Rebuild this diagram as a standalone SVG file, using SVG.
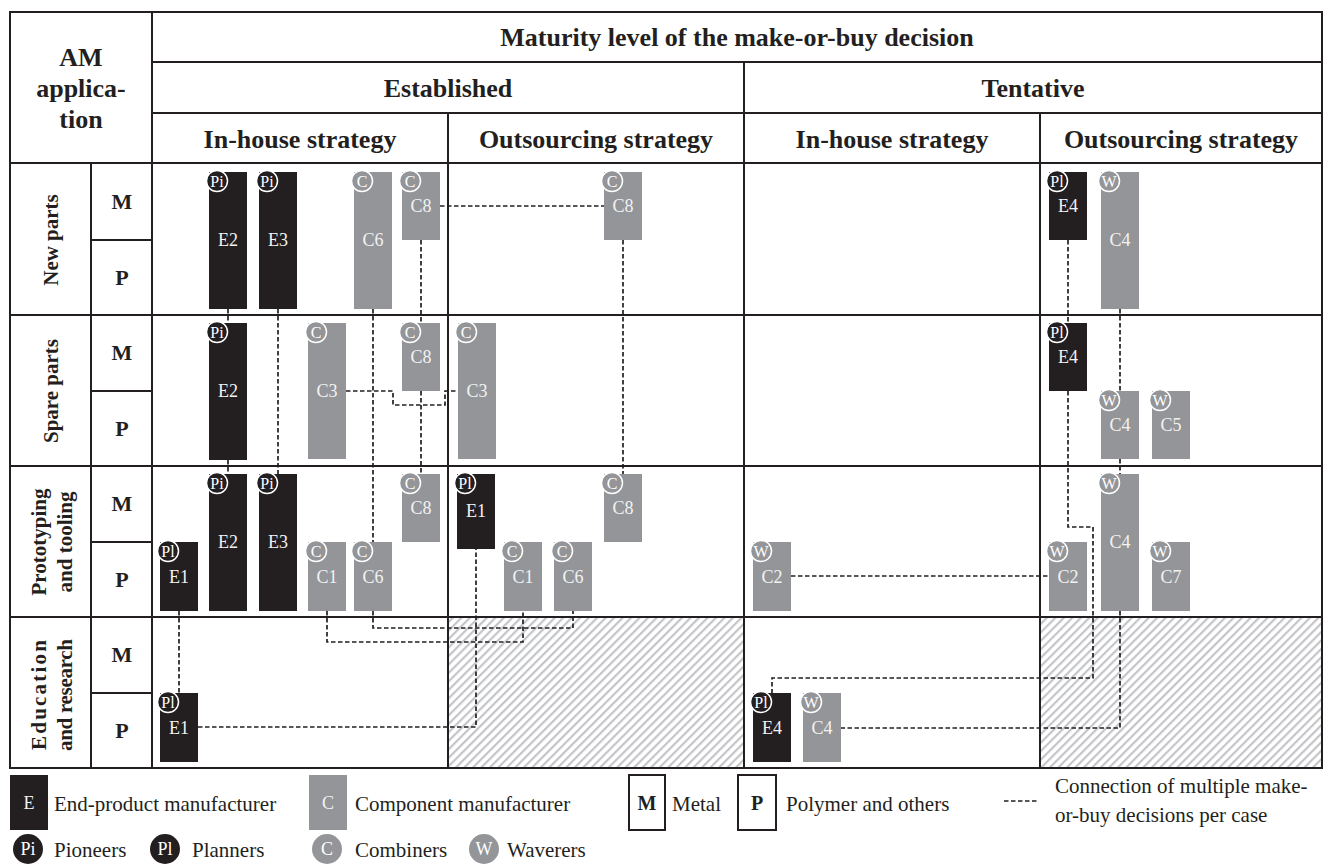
<svg xmlns="http://www.w3.org/2000/svg" width="1327" height="868" viewBox="0 0 1327 868">
<defs>
<pattern id="hatch" patternUnits="userSpaceOnUse" width="6" height="6" patternTransform="rotate(45)">
<rect width="6" height="6" fill="#ffffff"/>
<line x1="1" y1="0" x2="1" y2="6" stroke="#c4c5c9" stroke-width="2.4"/>
</pattern>
<style>
.grid{stroke:#231f20;stroke-width:2;fill:none}
.h{font-family:"Liberation Serif","Times New Roman",serif;font-weight:bold;fill:#231f20;text-anchor:middle;font-size:26px}
.rl{font-family:"Liberation Serif","Times New Roman",serif;font-weight:bold;fill:#231f20;text-anchor:middle;font-size:21px}
.mp{font-family:"Liberation Serif","Times New Roman",serif;font-weight:bold;fill:#231f20;text-anchor:middle;font-size:22px}
.bk{fill:#231f20}
.gy{fill:#939598}
.lbl{font-family:"Liberation Serif","Times New Roman",serif;font-size:18px;fill:#f2f2f2;text-anchor:middle}
.bdk{fill:#231f20;stroke:#ffffff;stroke-width:1.5}
.bgy{fill:#939598;stroke:#ffffff;stroke-width:1.5}
.bt{font-family:"Liberation Serif","Times New Roman",serif;font-size:16px;fill:#ffffff;text-anchor:middle}
.lbt{font-family:"Liberation Serif","Times New Roman",serif;font-size:18px;fill:#ffffff;text-anchor:middle}
.dash{fill:none;stroke:#231f20;stroke-width:1.7;stroke-dasharray:4.5 2.5}
.lg{font-family:"Liberation Serif","Times New Roman",serif;font-size:21px;fill:#231f20}
.lgb{font-family:"Liberation Serif","Times New Roman",serif;font-size:20px;font-weight:bold;fill:#231f20;text-anchor:middle}
</style>
</defs>
<rect width="1327" height="868" fill="#ffffff"/>

<g id="hatched">
<rect x="449" y="618" width="294" height="149" fill="url(#hatch)"/>
<rect x="1041" y="618" width="280" height="149" fill="url(#hatch)"/>
</g>

<g id="table" class="grid">
<rect x="10" y="12" width="1312" height="756"/>
<line x1="152" y1="12" x2="152" y2="768"/>
<line x1="152" y1="62" x2="1322" y2="62"/>
<line x1="152" y1="113" x2="1322" y2="113"/>
<line x1="10" y1="163" x2="1322" y2="163"/>
<line x1="744" y1="62" x2="744" y2="768"/>
<line x1="448" y1="113" x2="448" y2="768"/>
<line x1="1040" y1="113" x2="1040" y2="768"/>
<line x1="10" y1="315" x2="1322" y2="315"/>
<line x1="10" y1="466" x2="1322" y2="466"/>
<line x1="10" y1="617" x2="1322" y2="617"/>
<line x1="91" y1="163" x2="91" y2="768"/>
<line x1="91" y1="240" x2="152" y2="240"/>
<line x1="91" y1="391" x2="152" y2="391"/>
<line x1="91" y1="542" x2="152" y2="542"/>
<line x1="91" y1="693" x2="152" y2="693"/>
</g>

<g id="headers">
<text class="h" x="81" y="66">AM</text>
<text class="h" x="81" y="97">applica-</text>
<text class="h" x="81" y="128">tion</text>
<text class="h" x="737" y="46">Maturity level of the make-or-buy decision</text>
<text class="h" x="448" y="97">Established</text>
<text class="h" x="1033" y="97">Tentative</text>
<text class="h" x="300" y="148">In-house strategy</text>
<text class="h" x="596" y="148">Outsourcing strategy</text>
<text class="h" x="892" y="148">In-house strategy</text>
<text class="h" x="1181" y="148">Outsourcing strategy</text>
</g>

<g id="row-labels">
<text class="rl" transform="translate(58,240) rotate(-90)">New parts</text>
<text class="rl" transform="translate(58,391) rotate(-90)">Spare parts</text>
<text class="rl" transform="translate(46,542) rotate(-90)">Prototyping</text>
<text class="rl" transform="translate(72,542) rotate(-90)">and tooling</text>
<text class="rl" transform="translate(46,695) rotate(-90)" textLength="110" lengthAdjust="spacing">Education</text>
<text class="rl" transform="translate(72,695) rotate(-90)" textLength="112" lengthAdjust="spacing">and research</text>
<text class="mp" x="122" y="209">M</text><text class="mp" x="122" y="285">P</text>
<text class="mp" x="122" y="360">M</text><text class="mp" x="122" y="436">P</text>
<text class="mp" x="122" y="511">M</text><text class="mp" x="122" y="587">P</text>
<text class="mp" x="122" y="662">M</text><text class="mp" x="122" y="738">P</text>
</g>

<g id="connectors" class="dash">
<path d="M228,309 V323"/>
<path d="M228,460 V474"/>
<path d="M278,309 V474"/>
<path d="M373,309 V542"/>
<path d="M373,611 V628 H573 V611"/>
<path d="M327,611 V642 H523 V611"/>
<path d="M440,206 H604"/>
<path d="M421,240 V323"/>
<path d="M421,391 V474"/>
<path d="M623,240 V474"/>
<path d="M346,391 H393 V405 H445 V391 H458"/>
<path d="M179,611 V693"/>
<path d="M198,727 H476 V549"/>
<path d="M791,576 H1049"/>
<path d="M1068,240 V323"/>
<path d="M1068,391 V527 H1093 V678 H772 V693"/>
<path d="M1120,309 V391"/>
<path d="M1120,459 V474"/>
<path d="M1120,611 V728 H841"/>
</g>

<g id="est-inhouse-new-E2"><rect class="bk" x="209" y="172" width="38" height="137"/><text class="lbl" x="228" y="246">E2</text><circle class="bdk" cx="217" cy="181" r="10.5"/><text class="bt" x="217" y="186.5">Pi</text></g>
<g id="est-inhouse-new-E3"><rect class="bk" x="259" y="172" width="38" height="137"/><text class="lbl" x="278" y="246">E3</text><circle class="bdk" cx="267" cy="181" r="10.5"/><text class="bt" x="267" y="186.5">Pi</text></g>
<g id="est-inhouse-new-C6"><rect class="gy" x="354" y="172" width="38" height="137"/><text class="lbl" x="373" y="246">C6</text><circle class="bgy" cx="362" cy="181" r="10.5"/><text class="bt" x="362" y="186.5">C</text></g>
<g id="est-inhouse-new-C8"><rect class="gy" x="402" y="172" width="38" height="68"/><text class="lbl" x="421" y="212">C8</text><circle class="bgy" cx="410" cy="181" r="10.5"/><text class="bt" x="410" y="186.5">C</text></g>
<g id="est-inhouse-spare-E2"><rect class="bk" x="209" y="323" width="38" height="137"/><text class="lbl" x="228" y="397">E2</text><circle class="bdk" cx="217" cy="332" r="10.5"/><text class="bt" x="217" y="337.5">Pi</text></g>
<g id="est-inhouse-spare-C3"><rect class="gy" x="308" y="323" width="38" height="136"/><text class="lbl" x="327" y="397">C3</text><circle class="bgy" cx="316" cy="332" r="10.5"/><text class="bt" x="316" y="337.5">C</text></g>
<g id="est-inhouse-spare-C8"><rect class="gy" x="402" y="323" width="38" height="68"/><text class="lbl" x="421" y="363">C8</text><circle class="bgy" cx="410" cy="332" r="10.5"/><text class="bt" x="410" y="337.5">C</text></g>
<g id="est-inhouse-proto-E1"><rect class="bk" x="160" y="542" width="38" height="69"/><text class="lbl" x="179" y="583">E1</text><circle class="bdk" cx="168" cy="551" r="10.5"/><text class="bt" x="168" y="556.5">Pl</text></g>
<g id="est-inhouse-proto-E2"><rect class="bk" x="209" y="474" width="38" height="137"/><text class="lbl" x="228" y="548">E2</text><circle class="bdk" cx="217" cy="483" r="10.5"/><text class="bt" x="217" y="488.5">Pi</text></g>
<g id="est-inhouse-proto-E3"><rect class="bk" x="259" y="474" width="38" height="137"/><text class="lbl" x="278" y="548">E3</text><circle class="bdk" cx="267" cy="483" r="10.5"/><text class="bt" x="267" y="488.5">Pi</text></g>
<g id="est-inhouse-proto-C1"><rect class="gy" x="308" y="542" width="38" height="69"/><text class="lbl" x="327" y="583">C1</text><circle class="bgy" cx="316" cy="551" r="10.5"/><text class="bt" x="316" y="556.5">C</text></g>
<g id="est-inhouse-proto-C6"><rect class="gy" x="354" y="542" width="38" height="69"/><text class="lbl" x="373" y="583">C6</text><circle class="bgy" cx="362" cy="551" r="10.5"/><text class="bt" x="362" y="556.5">C</text></g>
<g id="est-inhouse-proto-C8"><rect class="gy" x="402" y="474" width="38" height="68"/><text class="lbl" x="421" y="514">C8</text><circle class="bgy" cx="410" cy="483" r="10.5"/><text class="bt" x="410" y="488.5">C</text></g>
<g id="est-inhouse-edu-E1"><rect class="bk" x="160" y="693" width="38" height="69"/><text class="lbl" x="179" y="734">E1</text><circle class="bdk" cx="168" cy="702" r="10.5"/><text class="bt" x="168" y="707.5">Pl</text></g>

<g id="est-out-new-C8"><rect class="gy" x="604" y="172" width="38" height="68"/><text class="lbl" x="623" y="212">C8</text><circle class="bgy" cx="612" cy="181" r="10.5"/><text class="bt" x="612" y="186.5">C</text></g>
<g id="est-out-spare-C3"><rect class="gy" x="458" y="323" width="38" height="136"/><text class="lbl" x="477" y="397">C3</text><circle class="bgy" cx="466" cy="332" r="10.5"/><text class="bt" x="466" y="337.5">C</text></g>
<g id="est-out-proto-E1"><rect class="bk" x="457" y="474" width="38" height="75"/><text class="lbl" x="476" y="517">E1</text><circle class="bdk" cx="465" cy="483" r="10.5"/><text class="bt" x="465" y="488.5">Pl</text></g>
<g id="est-out-proto-C1"><rect class="gy" x="504" y="542" width="38" height="69"/><text class="lbl" x="523" y="583">C1</text><circle class="bgy" cx="512" cy="551" r="10.5"/><text class="bt" x="512" y="556.5">C</text></g>
<g id="est-out-proto-C6"><rect class="gy" x="554" y="542" width="38" height="69"/><text class="lbl" x="573" y="583">C6</text><circle class="bgy" cx="562" cy="551" r="10.5"/><text class="bt" x="562" y="556.5">C</text></g>
<g id="est-out-proto-C8"><rect class="gy" x="604" y="474" width="38" height="68"/><text class="lbl" x="623" y="514">C8</text><circle class="bgy" cx="612" cy="483" r="10.5"/><text class="bt" x="612" y="488.5">C</text></g>

<g id="ten-inhouse-proto-C2"><rect class="gy" x="753" y="542" width="38" height="69"/><text class="lbl" x="772" y="583">C2</text><circle class="bgy" cx="761" cy="551" r="10.5"/><text class="bt" x="761" y="556.5">W</text></g>
<g id="ten-inhouse-edu-E4"><rect class="bk" x="753" y="693" width="38" height="69"/><text class="lbl" x="772" y="734">E4</text><circle class="bdk" cx="761" cy="702" r="10.5"/><text class="bt" x="761" y="707.5">Pl</text></g>
<g id="ten-inhouse-edu-C4"><rect class="gy" x="803" y="693" width="38" height="69"/><text class="lbl" x="822" y="734">C4</text><circle class="bgy" cx="811" cy="702" r="10.5"/><text class="bt" x="811" y="707.5">W</text></g>

<g id="ten-out-new-E4"><rect class="bk" x="1049" y="172" width="38" height="68"/><text class="lbl" x="1068" y="212">E4</text><circle class="bdk" cx="1057" cy="181" r="10.5"/><text class="bt" x="1057" y="186.5">Pl</text></g>
<g id="ten-out-new-C4"><rect class="gy" x="1101" y="172" width="38" height="137"/><text class="lbl" x="1120" y="246">C4</text><circle class="bgy" cx="1109" cy="181" r="10.5"/><text class="bt" x="1109" y="186.5">W</text></g>
<g id="ten-out-spare-E4"><rect class="bk" x="1049" y="323" width="38" height="68"/><text class="lbl" x="1068" y="363">E4</text><circle class="bdk" cx="1057" cy="332" r="10.5"/><text class="bt" x="1057" y="337.5">Pl</text></g>
<g id="ten-out-spare-C4"><rect class="gy" x="1101" y="391" width="38" height="68"/><text class="lbl" x="1120" y="431">C4</text><circle class="bgy" cx="1109" cy="400" r="10.5"/><text class="bt" x="1109" y="405.5">W</text></g>
<g id="ten-out-spare-C5"><rect class="gy" x="1152" y="391" width="38" height="68"/><text class="lbl" x="1171" y="431">C5</text><circle class="bgy" cx="1160" cy="400" r="10.5"/><text class="bt" x="1160" y="405.5">W</text></g>
<g id="ten-out-proto-C2"><rect class="gy" x="1049" y="542" width="38" height="69"/><text class="lbl" x="1068" y="583">C2</text><circle class="bgy" cx="1057" cy="551" r="10.5"/><text class="bt" x="1057" y="556.5">W</text></g>
<g id="ten-out-proto-C4"><rect class="gy" x="1101" y="474" width="38" height="137"/><text class="lbl" x="1120" y="548">C4</text><circle class="bgy" cx="1109" cy="483" r="10.5"/><text class="bt" x="1109" y="488.5">W</text></g>
<g id="ten-out-proto-C7"><rect class="gy" x="1152" y="542" width="38" height="69"/><text class="lbl" x="1171" y="583">C7</text><circle class="bgy" cx="1160" cy="551" r="10.5"/><text class="bt" x="1160" y="556.5">W</text></g>

<g id="legend">
<rect class="bk" x="10" y="775" width="38" height="55"/><text class="lbl" x="29" y="809">E</text>
<text class="lg" x="54" y="811">End-product manufacturer</text>
<rect class="gy" x="309" y="775" width="38" height="55"/><text class="lbl" x="328" y="809">C</text>
<text class="lg" x="355" y="811">Component manufacturer</text>
<rect x="629" y="775" width="36" height="55" fill="#ffffff" stroke="#231f20" stroke-width="2"/><text class="lgb" x="647" y="810">M</text>
<text class="lg" x="672" y="811">Metal</text>
<rect x="738" y="775" width="38" height="55" fill="#ffffff" stroke="#231f20" stroke-width="2"/><text class="lgb" x="757" y="810">P</text>
<text class="lg" x="786" y="811">Polymer and others</text>
<line class="dash" x1="1004" y1="801" x2="1039" y2="801"/>
<text class="lg" x="1055" y="793">Connection of multiple make-</text>
<text class="lg" x="1055" y="822">or-buy decisions per case</text>
<circle class="bk" cx="28" cy="849" r="15"/><text class="lbt" x="28" y="855">Pi</text>
<text class="lg" x="54" y="857">Pioneers</text>
<circle class="bk" cx="165" cy="849" r="15"/><text class="lbt" x="165" y="855">Pl</text>
<text class="lg" x="192" y="857">Planners</text>
<circle class="gy" cx="327" cy="849" r="15"/><text class="lbt" x="327" y="855">C</text>
<text class="lg" x="355" y="857">Combiners</text>
<circle class="gy" cx="484" cy="849" r="15"/><text class="lbt" x="484" y="855">W</text>
<text class="lg" x="507" y="857">Waverers</text>
</g>
</svg>
